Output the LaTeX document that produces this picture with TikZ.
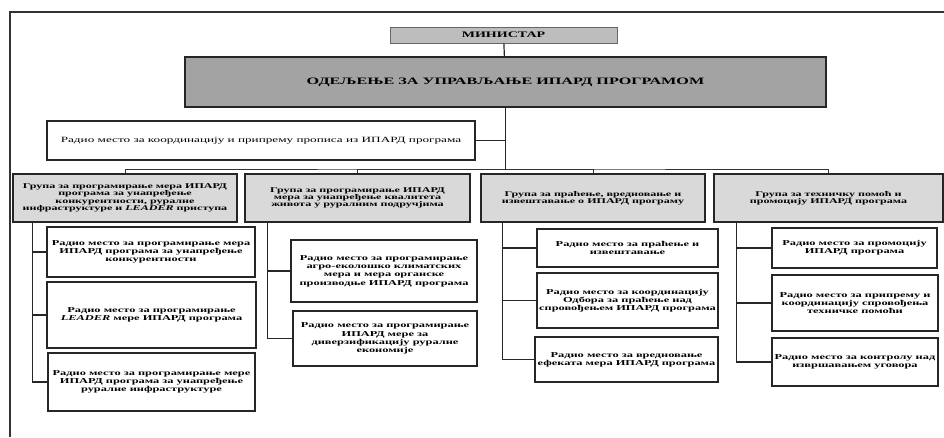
\documentclass[tikz,border=0pt]{standalone}
\usepackage{fontspec}
\setmainfont{Liberation Serif}[FakeStretch=1.65]
\usepackage{tikz}

\definecolor{mingray}{HTML}{BDBDBD}
\definecolor{deptgray}{HTML}{A3A3A3}
\definecolor{groupgray}{HTML}{D9D9D9}

\begin{document}
\begin{tikzpicture}[x=1pt, y=-1pt,
    box/.style={draw=black!85, line width=1.5pt, inner sep=0pt, align=center,
        font=\bfseries\fontsize{7.5}{8.3}\selectfont},
    groupbox/.style={box, fill=groupgray, font=\bfseries\fontsize{7.3}{7.3}\selectfont},
    link/.style={draw=black!85, line width=1.2pt},
    bus/.style={draw=black!80, line width=1pt}]
        \useasboundingbox (0,0) rectangle (944,437);

        % Draw the frame
        \draw[line width=1.5pt, black!80] (944,12) -- (10,12) -- (10,437);

        % Define nodes
        \node[box, draw=black!60, line width=0.8pt, fill=mingray, minimum width=227, minimum height=16,
            font=\bfseries\fontsize{8.5}{9}\selectfont] (min) at (503.5,35) {МИНИСТАР};
        \node[box, fill=deptgray, minimum width=641, minimum height=50,
            font=\bfseries\fontsize{9.8}{11}\selectfont] (dept) at (505.5,82) {ОДЕЉЕЊЕ ЗА УПРАВЉАЊЕ ИПАРД ПРОГРАМОМ};
        \node[box, minimum width=428, minimum height=39,
            font=\fontsize{8}{9}\selectfont] (coord) at (261,140.5) {Радио место за координацију и припрему прописа из ИПАРД програма};

        \node[groupbox, minimum width=224, minimum height=48] (g1) at (125,198)
            {Група за програмирање мера ИПАРД\\програма за унапређење\\конкурентности, руралне\\инфраструктуре и \textit{LEADER} приступа};
        \node[groupbox, minimum width=225, minimum height=48] (g2) at (357.5,198)
            {Група за програмирање ИПАРД\\мера за унапређење квалитета\\живота у руралним подручјима};
        \node[groupbox, minimum width=224, minimum height=48] (g3) at (593,198)
            {Група за праћење, вредновање и\\извештавање о ИПАРД програму};
        \node[groupbox, minimum width=229, minimum height=48] (g4) at (828.5,198)
            {Група за техничку помоћ и\\промоцију ИПАРД програма};

        \node[box, minimum width=208, minimum height=50] (j11) at (151,252)
            {Радио место за програмирање мера\\ИПАРД програма за унапређење\\конкурентности};
        \node[box, minimum width=209, minimum height=66] (j12) at (151.5,315)
            {Радио место за програмирање\\\textit{LEADER} мере ИПАРД програма};
        \node[box, minimum width=207, minimum height=58] (j13) at (151.5,382)
            {Радио место за програмирање мере\\ИПАРД програма за унапређење\\руралне инфраструктуре};

        \node[box, minimum width=186, minimum height=62] (j21) at (384,271)
            {Радио место за програмирање\\агро-еколошко климатских\\мера и мера органске\\производње ИПАРД програма};
        \node[box, minimum width=184, minimum height=55] (j22) at (385,338.5)
            {Радио место за програмирање\\ИПАРД мере за\\диверзификацију руралне\\економије};

        \node[box, minimum width=181, minimum height=38] (j31) at (627.5,248)
            {Радио место за праћење и\\извештавање};
        \node[box, minimum width=181, minimum height=55] (j32) at (627.5,300.5)
            {Радио место за координацију\\Одбора за праћење над\\спровођењем ИПАРД програма};
        \node[box, minimum width=183, minimum height=45] (j33) at (626.5,359.5)
            {Радио место за вредновање\\ефеката мера ИПАРД програма};

        \node[box, minimum width=165, minimum height=40] (j41) at (854.5,248)
            {Радио место за промоцију\\ИПАРД програма};
        \node[box, minimum width=166, minimum height=56] (j42) at (855,303)
            {Радио место за припрему и\\координацију спровођења\\техничке помоћи};
        \node[box, minimum width=166, minimum height=48] (j43) at (855,362)
            {Радио место за контролу над\\извршавањем уговора};

        \coordinate (bus) at (505.5,169);

        % Draw the hierarchy
        \draw[link] (min) -- (dept);
        \draw[link] (dept) -- (bus);
        \draw[link] (coord.east) -- (coord.east -| dept.south);
        \draw[bus] (g1.north) |- (bus) -| (g4.north);
        \draw[bus] (bus) -| (g2.north);
        \draw[bus] (bus) -| (g3.north);

        % Draw the groups' positions
        \draw[link] ([xshift=20]g1.south west) |- (j11.west);
        \draw[link] ([xshift=20]g1.south west) |- (j12.west);
        \draw[link] ([xshift=20]g1.south west) |- (j13.west);
        \draw[link] ([xshift=23]g2.south west) |- (j21.west);
        \draw[link] ([xshift=23]g2.south west) |- (j22.west);
        \draw[link] ([xshift=22]g3.south west) |- (j31.west);
        \draw[link] ([xshift=22]g3.south west) |- (j32.west);
        \draw[link] ([xshift=22]g3.south west) |- (j33.west);
        \draw[link] ([xshift=23]g4.south west) |- (j41.west);
        \draw[link] ([xshift=23]g4.south west) |- (j42.west);
        \draw[link] ([xshift=23]g4.south west) |- (j43.west);
    \end{tikzpicture}
\end{document}
